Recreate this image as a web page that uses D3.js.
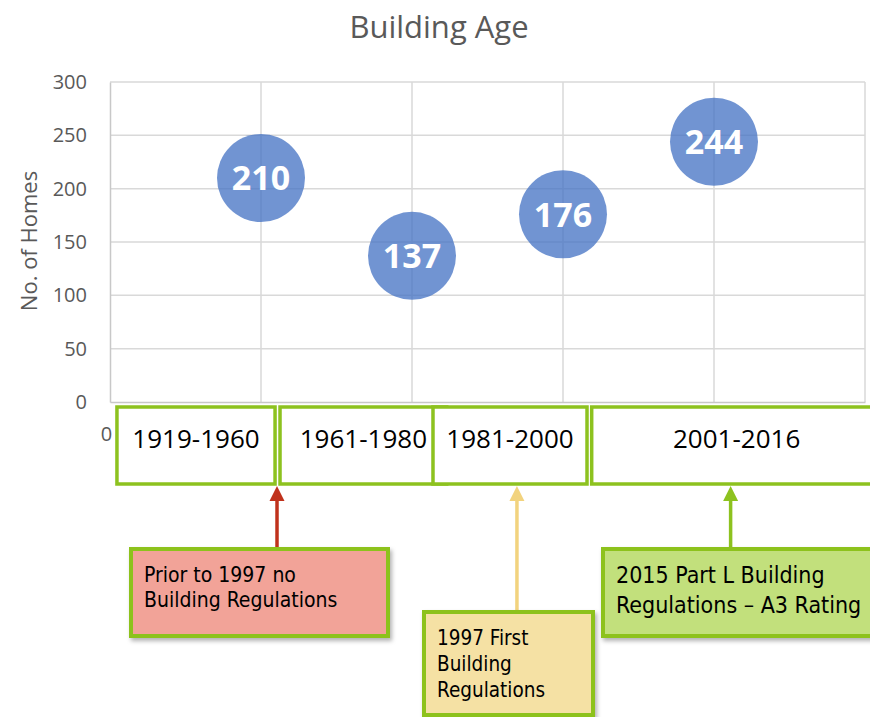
<!DOCTYPE html>
<html>
<head>
<meta charset="utf-8">
<script src="https://cdn.jsdelivr.net/npm/d3@7"></script>
<style>
  body { margin: 0; background: #fff; }
  svg { display: block; font-family: "Open Sans", sans-serif; }
</style>
</head>
<body>
<div id="chart"></div>
<script>
// chart data
const categories = ["1919-1960", "1961-1980", "1981-2000", "2001-2016"];
const xValues = [1, 2, 3, 4];
const homes = [210, 137, 176, 244];
const yTicks = [0, 50, 100, 150, 200, 250, 300];
const xGrid = [1, 2, 3, 4, 5];
const xTickLabels = [0]; // the others sit under the category boxes

// annotation texts
const noteLines = [
  ["Prior to 1997 no", "Building Regulations"],
  ["1997 First", "Building", "Regulations"],
  ["2015 Part L Building", "Regulations \u2013 A3 Rating"]
];

var w = 870, h = 717;
var plotLeft = 110, plotRight = 865, plotTop = 82, plotBottom = 402;

let svg = d3.select("#chart").append("svg")
  .attr("width", w)
  .attr("height", h);

let defs = svg.append("defs");
defs.append("filter")
  .attr("id", "shadow")
  .attr("x", "-10%").attr("y", "-10%")
  .attr("width", "130%").attr("height", "140%")
  .append("feDropShadow")
  .attr("dx", 2).attr("dy", 3)
  .attr("stdDeviation", 2)
  .attr("flood-color", "#000")
  .attr("flood-opacity", 0.3);

let xScale = d3.scaleLinear().domain([0, 5]).range([plotLeft, plotRight]);
let yScale = d3.scaleLinear().domain([0, 300]).range([plotBottom, plotTop]);

// title
svg.append("text")
  .attr("x", 439).attr("y", 38)
  .attr("text-anchor", "middle")
  .attr("fill", "#595959")
  .style("font-size", "31px")
  .text("Building Age");

// grid
svg.append("g")
  .selectAll("line")
  .data(yTicks.slice(1))
  .enter().append("line")
  .attr("x1", plotLeft).attr("x2", plotRight)
  .attr("y1", d => yScale(d)).attr("y2", d => yScale(d))
  .attr("stroke", "#d9d9d9").attr("stroke-width", 1.5);

svg.append("g")
  .selectAll("line")
  .data(xGrid)
  .enter().append("line")
  .attr("x1", d => xScale(d)).attr("x2", d => xScale(d))
  .attr("y1", plotTop).attr("y2", plotBottom)
  .attr("stroke", "#d9d9d9").attr("stroke-width", 1.5);

// y axis
let yAxis = d3.axisLeft(yScale).tickValues(yTicks).tickSize(0).tickPadding(23);
let yG = svg.append("g")
  .attr("transform", "translate(" + plotLeft + ",0)")
  .call(yAxis);
yG.select(".domain").attr("stroke", "#c8c8c8").attr("stroke-width", 1.5);
yG.selectAll("text")
  .attr("fill", "#595959")
  .style("font-size", "20px")
  .style("font-family", "Open Sans, sans-serif");

// x axis
let xAxis = d3.axisBottom(xScale).tickValues(xTickLabels).tickFormat(d3.format("d")).tickSize(0).tickPadding(25);
let xG = svg.append("g")
  .attr("transform", "translate(0," + plotBottom + ")")
  .call(xAxis);
xG.select(".domain").attr("stroke", "#c8c8c8").attr("stroke-width", 1.5);
xG.selectAll("text")
  .attr("fill", "#595959")
  .attr("dx", "-0.2em")
  .style("font-size", "20px")
  .style("font-family", "Open Sans, sans-serif");

// y axis title
svg.append("text")
  .attr("transform", "translate(37,241) rotate(-90)")
  .attr("text-anchor", "middle")
  .attr("fill", "#595959")
  .style("font-size", "22px")
  .text("No. of Homes");

// bubbles
let bubbles = svg.append("g")
  .selectAll("g")
  .data(homes)
  .enter().append("g")
  .attr("transform", (d, i) => "translate(" + xScale(xValues[i]) + "," + yScale(d) + ")");

bubbles.append("circle")
  .attr("r", 44)
  .attr("fill", "#4472c4")
  .attr("fill-opacity", 0.76);

bubbles.append("text")
  .attr("text-anchor", "middle")
  .attr("dy", "0.36em")
  .attr("fill", "#fff")
  .style("font-size", "34px")
  .style("font-weight", "bold")
  .text(d => d);

// category boxes below the axis (spans in x units)
const boxSpans = [[0.046, 1.093], [1.126, 2.23], [2.139, 3.159], [3.19, 5.11]];
const boxTop = 407, boxBottom = 484;

let cats = svg.append("g")
  .selectAll("g")
  .data(categories)
  .enter().append("g");

cats.append("rect")
  .attr("x", (d, i) => xScale(boxSpans[i][0]))
  .attr("y", boxTop)
  .attr("width", (d, i) => xScale(boxSpans[i][1]) - xScale(boxSpans[i][0]))
  .attr("height", boxBottom - boxTop)
  .attr("fill", "#fff")
  .attr("stroke", "#8dc21f")
  .attr("stroke-width", 3.5);

cats.append("text")
  .attr("x", (d, i) => (xScale(boxSpans[i][0]) + xScale(boxSpans[i][1])) / 2)
  .attr("y", 448)
  .attr("text-anchor", "middle")
  .attr("fill", "#000")
  .style("font-size", "26px")
  .text(d => d);

// annotation callouts
const notes = [
  { x0: 131, x1: 388, y0: 549, y1: 636, fill: "#f2a398", arrow: "#c0321c", ax: 1.106, lh: 25, size: 21, tx: 144, ty: 582 },
  { x0: 424, x1: 593, y0: 612, y1: 715, fill: "#f5e1a4", arrow: "#f2d37e", ax: 2.695, lh: 26, size: 20.5, tx: 437, ty: 645 },
  { x0: 603, x1: 895, y0: 549, y1: 636, fill: "#c2e07c", arrow: "#8dc21f", ax: 4.11, lh: 30, size: 23, tx: 616, ty: 583 }
];

let callouts = svg.append("g")
  .selectAll("g")
  .data(notes)
  .enter().append("g");

callouts.append("line")
  .attr("x1", d => xScale(d.ax)).attr("x2", d => xScale(d.ax))
  .attr("y1", d => d.y0).attr("y2", boxBottom + 14)
  .attr("stroke", d => d.arrow)
  .attr("stroke-width", 3.5);

callouts.append("path")
  .attr("d", d => {
    let ax = xScale(d.ax);
    return "M" + ax + "," + (boxBottom + 2) + "L" + (ax - 7.5) + "," + (boxBottom + 17) + "L" + (ax + 7.5) + "," + (boxBottom + 17) + "Z";
  })
  .attr("fill", d => d.arrow);

callouts.append("rect")
  .attr("x", d => d.x0).attr("y", d => d.y0)
  .attr("width", d => d.x1 - d.x0)
  .attr("height", d => d.y1 - d.y0)
  .attr("fill", d => d.fill)
  .attr("stroke", "#8dc21f")
  .attr("stroke-width", 4)
  .attr("filter", "url(#shadow)");

callouts.each(function(d, i) {
  d3.select(this).selectAll("text.note")
    .data(noteLines[i])
    .enter().append("text")
    .attr("class", "note")
    .attr("x", d.tx)
    .attr("y", (t, j) => d.ty + j * d.lh)
    .attr("fill", "#000")
    .style("font-family", "DejaVu Sans Condensed, DejaVu Sans, sans-serif")
    .style("font-size", d.size + "px")
    .text(t => t);
});
</script>
</body>
</html>
